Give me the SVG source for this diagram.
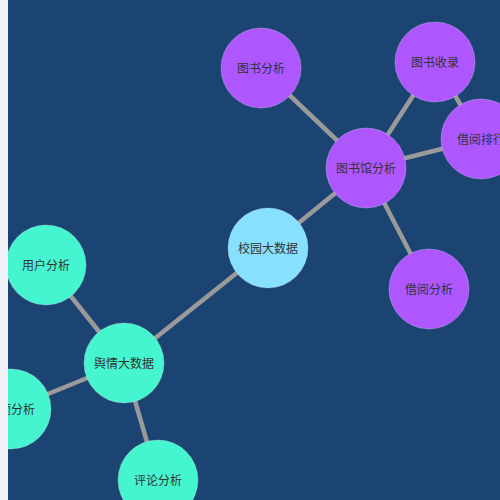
<svg xmlns="http://www.w3.org/2000/svg" width="500" height="500" viewBox="0 0 500 500">
<style>
.e{stroke:#9a9a9a;stroke-width:4.5;}
.n circle{stroke:#ffffff;stroke-opacity:0.25;stroke-width:1;}
.n text{font-family:"Noto Sans CJK SC","Liberation Sans",sans-serif;font-size:12px;fill:#333;text-anchor:middle;dominant-baseline:central;}
.p{fill:#ae57ff;}
.t{fill:#45f5cf;}
.b{fill:#87e0ff;}
</style>
<defs><clipPath id="c"><rect x="8" y="0" width="492" height="500"/></clipPath></defs>
<rect x="0" y="0" width="500" height="500" fill="#f0f2f8"/>
<rect x="8" y="0" width="492" height="500" fill="#1b4473"/>
<g clip-path="url(#c)">
<g id="edges">
<line class="e" x1="268" y1="248" x2="366" y2="168"/>
<line class="e" x1="268" y1="248" x2="124" y2="363"/>
<line class="e" x1="366" y1="168" x2="261" y2="68"/>
<line class="e" x1="366" y1="168" x2="435" y2="62"/>
<line class="e" x1="366" y1="168" x2="481" y2="139"/>
<line class="e" x1="366" y1="168" x2="429" y2="289"/>
<line class="e" x1="435" y1="62" x2="481" y2="139"/>
<line class="e" x1="124" y1="363" x2="46" y2="265"/>
<line class="e" x1="124" y1="363" x2="11" y2="409"/>
<line class="e" x1="124" y1="363" x2="158" y2="480"/>
</g>
<g id="n1" class="n"><circle class="b" cx="268" cy="248" r="40"/><text x="268" y="247">校园大数据</text></g>
<g id="n2" class="n"><circle class="p" cx="366" cy="168" r="40"/><text x="366" y="167">图书馆分析</text></g>
<g id="n3" class="n"><circle class="p" cx="261" cy="68" r="40"/><text x="261" y="67">图书分析</text></g>
<g id="n4" class="n"><circle class="p" cx="435" cy="62" r="40"/><text x="435" y="61">图书收录</text></g>
<g id="n5" class="n"><circle class="p" cx="481" cy="139" r="40"/><text x="481" y="138">借阅排行</text></g>
<g id="n6" class="n"><circle class="p" cx="429" cy="289" r="40"/><text x="429" y="288">借阅分析</text></g>
<g id="n7" class="n"><circle class="t" cx="124" cy="363" r="40"/><text x="124" y="362">舆情大数据</text></g>
<g id="n8" class="n"><circle class="t" cx="46" cy="265" r="40"/><text x="46" y="264">用户分析</text></g>
<g id="n9" class="n"><circle class="t" cx="11" cy="409" r="40"/><text x="11" y="408">话题分析</text></g>
<g id="n10" class="n"><circle class="t" cx="158" cy="480" r="40"/><text x="158" y="479">评论分析</text></g>
</g>
</svg>
